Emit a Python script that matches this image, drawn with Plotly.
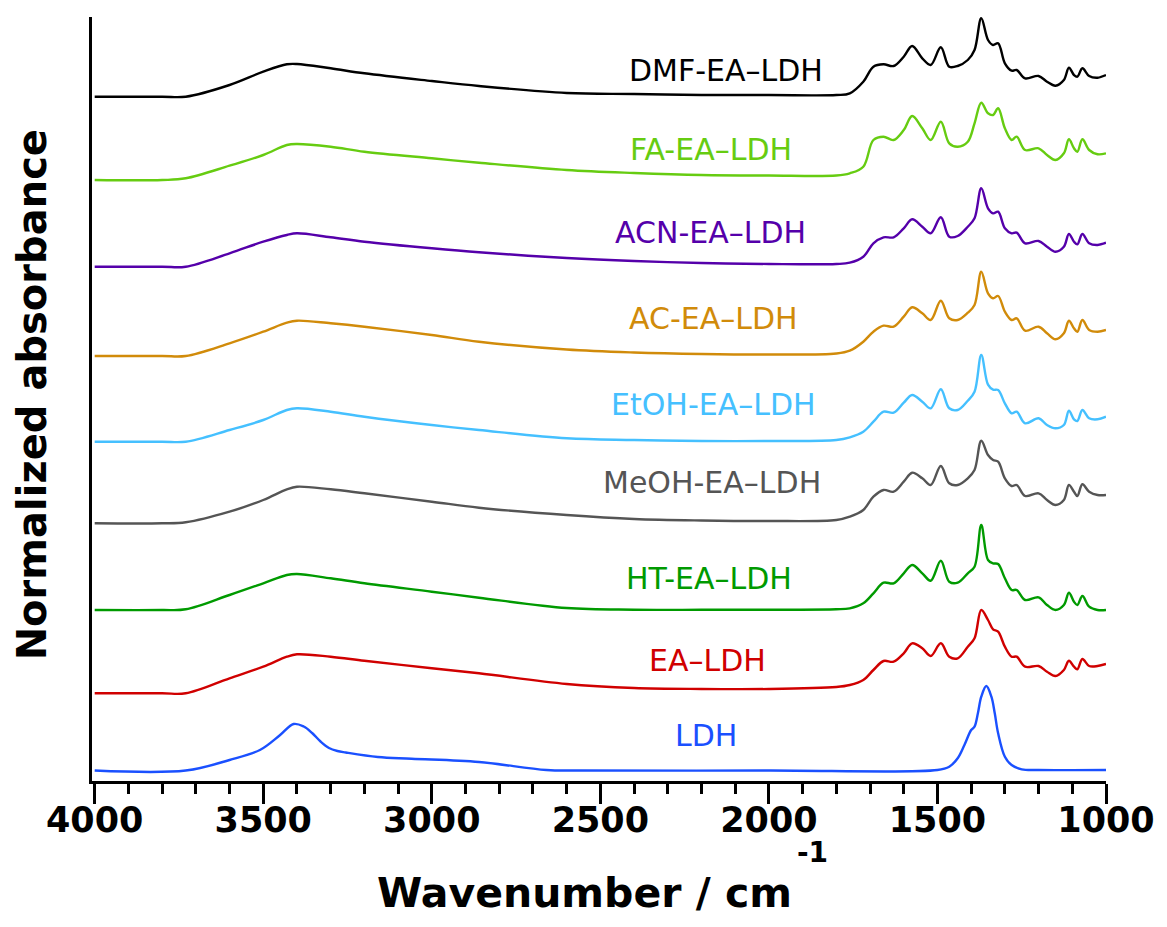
import plotly.graph_objects as go

# ---------------- data ----------------
# wavenumber grids (cm-1)
wn_broad = [4000, 3800, 3730, 3600, 3500, 3430, 3400, 3300, 3200, 3000, 2860, 2600, 2400, 2200, 2000]
wn_finger = [1800, 1760, 1720, 1690, 1660, 1630, 1600, 1575, 1545, 1520, 1490, 1465, 1440, 1410,
             1390, 1370, 1350, 1335, 1320, 1300, 1280, 1265, 1240, 1200, 1175, 1150, 1125, 1110,
             1095, 1085, 1070, 1050, 1025, 1000]
wn_ldh = [4000, 3730, 3600, 3510, 3450, 3410, 3380, 3355, 3330, 3305, 3280, 3255, 3160, 3060,
          2860, 2660, 2560, 2000, 1500, 1465, 1440, 1420, 1400, 1390, 1380, 1370, 1355, 1340,
          1330, 1320, 1300, 1280, 1250, 1200, 1000]

names = ["DMF-EA–LDH", "FA-EA–LDH", "ACN-EA–LDH", "AC-EA–LDH", "EtOH-EA–LDH",
         "MeOH-EA–LDH", "HT-EA–LDH", "EA–LDH", "LDH"]

# normalized absorbance (arbitrary units) above each spectrum's own baseline
dmf_broad = [0, 0, 0, 11.7, 25, 32.4, 32.7, 28.4, 23.4, 15.7, 10.7, 3.7, 2.7, 1.7, 1.7]
dmf_finger = [1.7, 3.4, 15, 30, 32.4, 30.7, 40, 50.7, 38.4, 31.7, 49.4, 30, 30.7, 36.7,
              46.7, 78.4, 56.7, 51.7, 53.4, 33.4, 26, 26.7, 18.4, 20.7, 15, 11, 16.7, 29,
              21.7, 20, 28.4, 20.7, 19, 21.7]

fa_broad = [0, 0, 1.7, 14.3, 25, 35, 36, 33.3, 28.3, 21.7, 17.3, 10, 7, 5, 4.5]
fa_finger = [4.5, 6.7, 13.3, 40, 43.3, 40, 50, 64, 51.7, 40, 58.3, 36.7, 33.3, 38.3,
             56.7, 77.3, 66.7, 65, 71.7, 51.7, 40, 43.3, 30, 31.7, 25, 20, 26.7, 40.7,
             31.7, 28.3, 40.7, 30, 25.7, 26.7]

acn_broad = [0, 0, 0, 13.4, 25, 31.7, 33.4, 29.4, 25, 18.4, 14.4, 8.7, 5.7, 3.7, 2.7]
acn_finger = [2.7, 4, 10, 23.4, 29.4, 29.4, 38.4, 47.4, 40, 33.4, 49.4, 30, 30.7, 40,
              48.4, 78.4, 58.4, 53.4, 55, 38.4, 33.4, 34, 23.4, 25.7, 20, 15, 20, 32.7,
              25, 22.4, 32.7, 23.4, 21.7, 24]

ac_broad = [0, 0, 0, 12.7, 24.3, 33.3, 35.3, 32.7, 29.3, 21, 14.3, 6.5, 3.5, 2, 1.5]
ac_finger = [2.5, 5.3, 14.3, 24.3, 30.3, 29.3, 39.3, 48.7, 42.7, 36, 55.3, 37.7, 36, 43.3,
             51, 84.3, 62.7, 57.7, 60, 44.3, 36, 37.7, 25.3, 29.3, 22.7, 16.7, 22.7, 35.3,
             27.7, 24.3, 36, 26, 24.3, 26]

etoh_broad = [0, 0, 0, 11.7, 21.7, 31.7, 33.4, 30, 25, 16.7, 11.7, 3.4, 1.7, 0.7, 0.7]
etoh_finger = [1.7, 4.4, 10, 20, 30, 29, 39, 46.7, 40, 33.4, 52.4, 33.4, 31.7, 41,
               50, 86.7, 57, 52, 51.7, 38.4, 28.4, 30, 18.4, 23.4, 16.7, 13.4, 16.7, 31,
               22.4, 20.7, 31.7, 23.4, 22.4, 25]

meoh_broad = [0, 0, 1, 11.6, 23.3, 34, 36.6, 34, 30, 21.6, 15.6, 8.3, 4.3, 2.8, 2.3]
meoh_finger = [3.3, 6.6, 13.3, 26.6, 33.3, 31.6, 41.6, 50.6, 45, 38.3, 57.3, 40, 38.3, 45,
               53.3, 82.6, 68.3, 63.3, 61.6, 45, 37.3, 38.3, 27.3, 30, 23.3, 18.3, 23.3, 38.3,
               31.6, 27.3, 39, 31.6, 28.3, 28.3]

ht_broad = [0, 0, 0.7, 15, 26.7, 35, 36, 31.7, 26.7, 18.3, 12.3, 2, 0.3, 0.2, 0.3]
ht_finger = [0.7, 1.7, 6.7, 16.7, 27.3, 26.7, 36.7, 45, 36.7, 29.3, 49.3, 28.3, 27.3, 36.7,
             43.3, 85, 50, 46.7, 46, 31.7, 20, 20, 10, 12.7, 5, 0, 5, 17.3,
             8.3, 5, 14, 3.3, 0, 0]

ea_broad = [0, 0, 0, 15, 26.6, 36.6, 39, 36.6, 32.6, 25, 20, 9.3, 5.3, 4.3, 4.3]
ea_finger = [6.3, 8.3, 13.3, 23.3, 32.3, 31.6, 40, 50, 45, 37.3, 50, 36.6, 35, 46.6,
             55, 83.3, 73.3, 64, 61.6, 46.6, 36.6, 36.6, 26.6, 27.3, 21.6, 17.3, 23.3, 32.6,
             26.6, 24, 34.3, 27.3, 27.3, 29.3]

ldh_vals = [0, 0, 10.5, 20.5, 35.5, 46.5, 44, 37.5, 29, 22.5, 19.5, 18, 13.5, 11.8,
            8.5, 0.5, 0, 0, 0.5, 3.8, 12.2, 25.5, 40.5, 43.8, 57.2, 73.8, 84.5, 73.8,
            57.2, 37.2, 13.8, 5.5, 1.2, 0.5, 0.5]

# vertical stacking offsets (same arbitrary units)
offsets = [684.3, 601, 514.3, 425, 339.3, 257.7, 171, 87.7, 10.5]

# label anchor positions (wavenumber, height)
label_wn = [2128, 2173, 2174, 2165, 2164, 2170, 2179, 2182, 2187]
label_y = [711, 631.5, 548.5, 463, 377, 298.4, 203, 121, 46]

# ---------------- styling ----------------
colors = ["#000000", "#66CC11", "#5500AA", "#D18B0A", "#45C0FF",
          "#555555", "#009A00", "#D00000", "#1A50FF"]

series = [
    (wn_broad + wn_finger, dmf_broad + dmf_finger),
    (wn_broad + wn_finger, fa_broad + fa_finger),
    (wn_broad + wn_finger, acn_broad + acn_finger),
    (wn_broad + wn_finger, ac_broad + ac_finger),
    (wn_broad + wn_finger, etoh_broad + etoh_finger),
    (wn_broad + wn_finger, meoh_broad + meoh_finger),
    (wn_broad + wn_finger, ht_broad + ht_finger),
    (wn_broad + wn_finger, ea_broad + ea_finger),
    (wn_ldh, ldh_vals),
]

fig = go.Figure()
for (xs, ys), off, name, col in zip(series, offsets, names, colors):
    fig.add_trace(go.Scatter(
        x=xs, y=[v + off for v in ys], mode="lines", name=name,
        line=dict(color=col, width=2.4, shape="spline", smoothing=1.0),
        showlegend=False, hoverinfo="skip"))

for name, col, lx, ly in zip(names, colors, label_wn, label_y):
    fig.add_annotation(x=lx, y=ly, text=name, showarrow=False,
                       font=dict(family="DejaVu Sans", size=30, color=col),
                       xanchor="center", yanchor="middle")

# y-axis title
fig.add_annotation(xref="paper", yref="paper", x=-0.059, y=0.505, text="Normalized absorbance",
                   showarrow=False, textangle=-90, xanchor="center", yanchor="middle",
                   font=dict(family="DejaVu Sans", size=40, color="black", weight="bold"))

# x-axis title with a raised unit exponent
fig.add_annotation(xref="paper", yref="paper", x=0.486, y=-0.147, text="Wavenumber / cm",
                   showarrow=False, xanchor="center", yanchor="middle",
                   font=dict(family="DejaVu Sans", size=41, color="black", weight="bold"))
fig.add_annotation(xref="paper", yref="paper", x=0.711, y=-0.094, text="-1",
                   showarrow=False, xanchor="center", yanchor="middle",
                   font=dict(family="DejaVu Sans", size=28, color="black", weight="bold"))

fig.update_layout(
    width=1167, height=927,
    margin=dict(l=92, r=55, t=17, b=146),
    paper_bgcolor="white", plot_bgcolor="white",
    xaxis=dict(
        range=[4008, 1000], showgrid=False, zeroline=False,
        showline=True, linecolor="black", linewidth=2.5,
        ticks="outside", ticklen=20, tickwidth=2.5, tickcolor="black",
        tickvals=[4000, 3500, 3000, 2500, 2000, 1500, 1000],
        ticktext=["4000", "3500", "3000", "2500", "2000", "1500", "1000"],
        ticklabelstandoff=-14,
        minor=dict(dtick=100, ticks="outside", ticklen=10, tickwidth=2.5, tickcolor="black", showgrid=False),
        tickfont=dict(family="DejaVu Sans", size=35, color="black", weight="bold"),
    ),
    yaxis=dict(
        range=[0, 764], showgrid=False, zeroline=False, showticklabels=False,
        showline=True, linecolor="black", linewidth=2.5, ticks="",
    ),
)

fig.write_html("out.html")
